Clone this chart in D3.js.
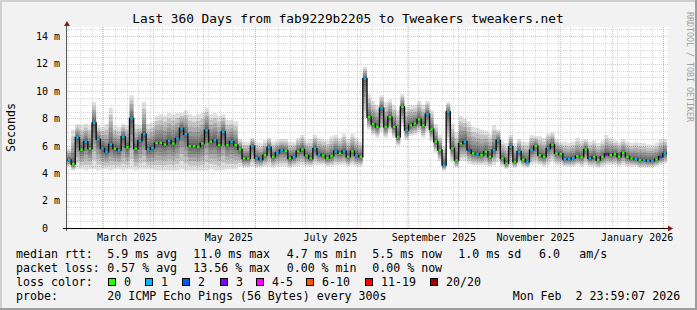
<!DOCTYPE html>
<html>
<head>
<meta charset="utf-8">
<script src="https://cdn.jsdelivr.net/npm/d3@7"></script>
<style>
body { margin: 0; background: #f2f2f2; }
svg text { font-family: "DejaVu Sans Mono", monospace; fill: #000; }
</style>
</head>
<body>
<div id="chart"></div>
<script>
// median rtt per 2.5 day step (ms)
var medianMs = [
  4.96, 4.67, 6.6, 5.72, 6.3, 5.8, 7.68, 6.47, 5.81, 5.57,
  6.1, 5.8, 5.69, 6.66, 5.9, 8.0, 5.8, 6.37, 6.85, 5.74,
  5.85, 6.22, 6.22, 6.1, 6.37, 6.17, 6.54, 7.27, 6.85, 5.98,
  5.98, 5.93, 6.17, 7.15, 6.3, 6.42, 6.05, 7.02, 6.05, 6.3,
  6.05, 5.74, 5.08, 5.08, 5.98, 5.1, 5.0, 5.32, 5.88, 5.2,
  5.5, 5.69, 5.63, 5.08, 5.2, 5.6, 5.74, 5.3, 5.08, 5.8,
  5.37, 5.3, 5.1, 5.27, 5.6, 5.45, 5.6, 5.2, 5.6, 5.3,
  5.2, 10.9, 8.1, 7.6, 7.39, 8.73, 7.39, 8.1, 7.39, 6.66,
  8.85, 7.15, 7.5, 7.63, 7.93, 7.5, 8.31, 7.2, 6.3, 5.69,
  4.59, 8.48, 5.81, 4.96, 6.17, 6.3, 5.69, 5.45, 5.4, 5.32,
  5.57, 5.2, 5.69, 6.4, 5.08, 4.72, 5.93, 4.84, 5.57, 5.0,
  4.84, 5.69, 5.98, 5.32, 5.2, 5.81, 6.1, 5.45, 5.4, 5.03,
  5.03, 5.1, 5.25, 5.2, 5.74, 5.08, 5.2, 4.96, 5.2, 5.4,
  5.32, 5.4, 5.2, 5.49, 5.2, 5.08, 5.03, 4.96, 4.96, 4.91,
  4.91, 5.0, 5.2, 5.45
];

// lost pings out of 20 per step
var lossCount = [
  1, 0, 1, 0, 1, 0, 1, 1, 1, 1,
  1, 0, 1, 1, 0, 1, 0, 1, 1, 1,
  1, 0, 0, 0, 1, 0, 1, 1, 1, 0,
  0, 0, 0, 1, 0, 1, 0, 1, 0, 1,
  0, 0, 0, 0, 1, 1, 1, 0, 1, 0,
  1, 1, 0, 0, 1, 0, 0, 0, 0, 1,
  1, 0, 0, 0, 1, 0, 1, 0, 0, 1,
  0, 1, 0, 0, 0, 1, 0, 0, 0, 0,
  0, 1, 0, 0, 0, 0, 1, 0, 0, 0,
  1, 1, 0, 0, 0, 1, 2, 0, 1, 0,
  0, 0, 1, 1, 0, 0, 1, 0, 1, 0,
  1, 1, 0, 0, 0, 1, 0, 0, 0, 1,
  1, 1, 0, 0, 0, 1, 0, 0, 0, 3,
  0, 0, 0, 0, 0, 0, 1, 0, 1, 1,
  1, 0, 2, 1
];

// fastest ping per step (ms)
var smokeLo = [
  4.5, 4.2, 4.3, 4.3, 4.2, 4.3, 4.3, 4.2, 4.3, 4.3,
  4.2, 4.3, 4.3, 4.2, 4.3, 4.3, 4.2, 4.3, 4.3, 4.3,
  4.3, 4.2, 4.2, 4.2, 4.2, 4.2, 4.2, 4.3, 4.2, 4.2,
  4.2, 4.2, 4.2, 4.2, 4.3, 4.2, 4.2, 4.2, 4.3, 4.3,
  4.3, 4.5, 4.4, 4.4, 4.5, 4.4, 4.4, 4.5, 4.5, 4.4,
  4.5, 4.5, 4.5, 4.4, 4.5, 4.5, 4.6, 4.5, 4.5, 4.6,
  4.6, 4.6, 4.5, 4.5, 4.6, 4.6, 4.6, 4.5, 4.6, 4.5,
  4.5, 8.0, 7.2, 6.8, 6.6, 7.0, 6.6, 7.0, 6.6, 6.0,
  7.4, 6.4, 6.7, 6.8, 7.0, 6.6, 7.0, 6.3, 5.5, 4.9,
  4.2, 6.2, 4.8, 4.4, 4.9, 4.9, 4.7, 4.6, 4.6, 4.6,
  4.6, 4.5, 4.6, 4.8, 4.5, 4.3, 4.6, 4.4, 4.6, 4.5,
  4.4, 4.6, 4.7, 4.6, 4.5, 4.6, 4.8, 4.6, 4.6, 4.5,
  4.5, 4.5, 4.6, 4.5, 4.6, 4.5, 4.5, 4.4, 4.5, 4.6,
  4.6, 4.6, 4.5, 4.6, 4.5, 4.5, 4.5, 4.4, 4.4, 4.4,
  4.4, 4.5, 4.6, 4.7
];

// slowest ping per step (ms)
var smokeHi = [
  5.8, 7.2, 7.6, 7.5, 7.6, 7.5, 9.2, 7.5, 7.4, 7.6,
  8.8, 7.5, 7.4, 7.6, 7.5, 9.7, 7.6, 7.5, 9.2, 7.6,
  7.7, 8.2, 8.3, 8.2, 8.4, 8.3, 8.4, 8.4, 8.6, 8.3,
  8.2, 8.3, 8.4, 8.8, 8.3, 8.4, 8.2, 8.3, 7.9, 7.9,
  7.8, 6.5, 6.3, 6.3, 6.6, 6.3, 6.2, 6.4, 6.6, 6.3,
  6.4, 6.5, 6.5, 6.3, 6.3, 6.6, 6.8, 6.4, 6.5, 6.8,
  6.6, 6.5, 6.4, 6.7, 6.8, 6.6, 6.9, 6.5, 6.9, 6.6,
  6.3, 11.8, 9.8, 9.3, 9.0, 9.7, 9.2, 9.4, 9.0, 8.6,
  9.8, 8.8, 9.0, 9.0, 9.3, 9.0, 9.3, 8.6, 7.6, 6.8,
  6.0, 9.2, 7.6, 7.0, 8.2, 8.0, 7.8, 7.4, 7.3, 7.2,
  7.1, 6.9, 7.5, 7.2, 6.4, 6.2, 6.8, 6.2, 6.5, 6.3,
  6.3, 6.8, 6.7, 6.7, 6.6, 6.9, 7.0, 6.5, 6.3, 6.3,
  6.2, 6.3, 6.6, 6.4, 6.5, 6.3, 6.4, 6.2, 6.4, 6.8,
  6.6, 6.4, 6.3, 6.5, 6.3, 6.2, 6.3, 6.2, 6.2, 6.1,
  6.1, 6.2, 6.5, 6.5
];

var yTicks = [0, 2, 4, 6, 8, 10, 12, 14];
var monthLabels = ["2025-03", "2025-05", "2025-07", "2025-09", "2025-11", "2026-01"];

var lossNames = ["0", "1", "2", "3", "4-5", "6-10", "11-19", "20/20"];
var lossColors = ["#26ff00", "#00b8ff", "#0059ff", "#7e00ff", "#ff00ff", "#ff5500", "#ff0000", "#a10000"];

var rttStats = ["5.9 ms avg", "11.0 ms max", "4.7 ms min", "5.5 ms now", "1.0 ms sd", "6.0", "am/s"];
var lossStats = ["0.57 % avg", "13.56 % max", "0.00 % min", "0.00 % now"];

var W = 697, H = 310,
    pLeft = 67, pRight = 667, pTop = 27, pBottom = 228;

var t1 = new Date(Date.UTC(2026, 1, 3, 4, 20)),
    t0 = d3.utcDay.offset(t1, -360);

var x = d3.scaleUtc().domain([t0, t1]).range([pLeft, pRight]);
var y = d3.scaleLinear().domain([0, 14.68]).range([pBottom, pTop]);

var lossColor = d3.scaleThreshold()
    .domain([0.5, 1.5, 2.5, 3.5, 5.5, 10.5, 19.5])
    .range(lossColors);

var data = medianMs.map(function(m, i) {
  return {t: d3.utcHour.offset(t0, i * 60), med: m, lo: smokeLo[i], hi: smokeHi[i], loss: lossCount[i]};
});
var last = data[data.length - 1];
var stepped = data.concat([{t: t1, med: last.med, lo: last.lo, hi: last.hi}]);

var svg = d3.select("#chart").append("svg")
    .attr("width", W)
    .attr("height", H);

// background and 3d frame
svg.append("rect").attr("width", W).attr("height", H).attr("fill", "#f2f2f2");
svg.append("rect").attr("x", 0).attr("y", 0).attr("width", W).attr("height", 2).attr("fill", "#cfcfcf");
svg.append("rect").attr("x", 0).attr("y", 0).attr("width", 2).attr("height", H).attr("fill", "#cfcfcf");
svg.append("rect").attr("x", W - 2).attr("y", 0).attr("width", 2).attr("height", H).attr("fill", "#9e9e9e");
svg.append("rect").attr("x", 0).attr("y", H - 2).attr("width", W).attr("height", 2).attr("fill", "#9e9e9e");

svg.append("defs").append("clipPath").attr("id", "clip")
  .append("rect").attr("x", pLeft).attr("y", pTop).attr("width", pRight - pLeft).attr("height", pBottom - pTop);

var g = svg.append("g");

g.append("rect")
    .attr("x", pLeft).attr("y", pTop)
    .attr("width", pRight - pLeft + 1).attr("height", pBottom - pTop)
    .attr("fill", "#fff");

// grid
var minorY = d3.range(0.5, 14.6, 0.5).filter(function(v) { return v % 2 != 0; });
g.selectAll(".hminor").data(minorY).enter().append("line")
    .attr("x1", pLeft).attr("x2", pRight + 1)
    .attr("y1", function(d) { return Math.round(y(d)) + 0.5; })
    .attr("y2", function(d) { return Math.round(y(d)) + 0.5; })
    .attr("stroke", "rgba(192,192,192,0.6)").attr("stroke-dasharray", "1,1");

g.selectAll(".vminor").data(d3.utcSunday.range(t0, t1)).enter().append("line")
    .attr("x1", function(d) { return Math.round(x(d)) + 0.5; })
    .attr("x2", function(d) { return Math.round(x(d)) + 0.5; })
    .attr("y1", pTop).attr("y2", pBottom)
    .attr("stroke", "rgba(192,192,192,0.6)").attr("stroke-dasharray", "1,1");

g.selectAll(".hmajor").data(yTicks.slice(1)).enter().append("line")
    .attr("x1", pLeft).attr("x2", pRight + 1)
    .attr("y1", function(d) { return Math.round(y(d)) + 0.5; })
    .attr("y2", function(d) { return Math.round(y(d)) + 0.5; })
    .attr("stroke", "rgba(255,128,128,0.6)").attr("stroke-dasharray", "1,1");

g.selectAll(".vmajor").data(d3.utcMonth.range(t0, t1)).enter().append("line")
    .attr("x1", function(d) { return Math.round(x(d)) + 0.5; })
    .attr("x2", function(d) { return Math.round(x(d)) + 0.5; })
    .attr("y1", pTop).attr("y2", pBottom)
    .attr("stroke", "rgba(255,128,128,0.6)").attr("stroke-dasharray", "1,1");

// smoke
var bands = [1, 0.8, 0.62, 0.46, 0.32, 0.2, 0.1];
bands.forEach(function(f) {
  var area = d3.area()
      .curve(d3.curveStepAfter)
      .x(function(d) { return x(d.t); })
      .y0(function(d) { return y(d.med - f * (d.med - d.lo)); })
      .y1(function(d) { return y(d.med + f * (d.hi - d.med)); });
  g.append("path")
      .datum(stepped)
      .attr("clip-path", "url(#clip)")
      .attr("fill", "#000")
      .attr("fill-opacity", 0.12)
      .attr("d", area);
});

var medLine = d3.line()
    .curve(d3.curveStepAfter)
    .x(function(d) { return x(d.t); })
    .y(function(d) { return y(d.med); });

g.append("path")
    .datum(stepped)
    .attr("clip-path", "url(#clip)")
    .attr("fill", "none")
    .attr("stroke", "#111")
    .attr("stroke-width", 1.4)
    .attr("d", medLine);

g.selectAll(".med").data(data).enter().append("line")
    .attr("x1", function(d) { return x(d.t) + 0.8; })
    .attr("x2", function(d, i) { return x(stepped[i + 1].t) - 0.8; })
    .attr("y1", function(d) { return y(d.med); })
    .attr("y2", function(d) { return y(d.med); })
    .attr("stroke", function(d) { return lossColor(d.loss); })
    .attr("stroke-width", 2.3);

// axes
var yAxis = g.append("g")
    .attr("transform", "translate(" + pLeft + ",0)")
    .call(d3.axisLeft(y).tickValues(yTicks).tickSize(0).tickPadding(7)
      .tickFormat(function(d) { return d ? d + " m" : "0\u00a0\u00a0"; }));
yAxis.select(".domain").remove();
yAxis.selectAll("text").attr("font-size", 10).attr("font-family", "DejaVu Sans Mono").attr("fill", "#000");

var xAxis = g.append("g")
    .attr("transform", "translate(0," + pBottom + ")")
    .call(d3.axisBottom(x)
      .tickValues(monthLabels.map(function(m) { return d3.utcDay.offset(d3.utcParse("%Y-%m")(m), 15); }))
      .tickSize(0).tickPadding(4)
      .tickFormat(d3.utcFormat("%B %Y")));
xAxis.select(".domain").remove();
xAxis.selectAll("text").attr("font-size", 10).attr("font-family", "DejaVu Sans Mono").attr("fill", "#000").attr("dy", "0.9em");

g.append("line").attr("x1", pLeft - 0.5).attr("x2", pLeft - 0.5).attr("y1", 26).attr("y2", pBottom + 3)
    .attr("stroke", "#555").attr("stroke-width", 1);
g.append("line").attr("x1", pLeft - 4).attr("x2", pRight + 2).attr("y1", pBottom + 0.5).attr("y2", pBottom + 0.5)
    .attr("stroke", "#000").attr("stroke-width", 1);
g.append("path").attr("d", "M64,26L70,26L67,21Z").attr("fill", "#8c1a1a");
g.append("path").attr("d", "M668,225.5L668,231.5L673,228.5Z").attr("fill", "#8c1a1a");

// titles
svg.append("text")
    .attr("x", 348).attr("y", 23)
    .attr("text-anchor", "middle")
    .attr("font-size", 12.8)
    .text("Last 360 Days from fab9229b2205 to Tweakers tweakers.net");

svg.append("text")
    .attr("transform", "translate(15,127.5) rotate(-90)")
    .attr("text-anchor", "middle")
    .attr("font-size", 11.6)
    .text("Seconds");

svg.append("text")
    .attr("transform", "translate(686.5,12) rotate(90)")
    .attr("font-size", 8.3)
    .style("fill", "#a0a0a0")
    .text("RRDTOOL / TOBI OETIKER");

// legend
var lg = svg.append("g").attr("font-size", 11.6);
var statX = [107.3, 193.3, 286.7, 372.3, 458.3, 539, 579.3];

lg.append("text").attr("x", 16).attr("y", 258).text("median rtt:");
rttStats.forEach(function(s, i) {
  lg.append("text").attr("x", statX[i]).attr("y", 258).text(s);
});

lg.append("text").attr("x", 16).attr("y", 272).text("packet loss:");
lossStats.forEach(function(s, i) {
  lg.append("text").attr("x", statX[i]).attr("y", 272).text(s);
});

lg.append("text").attr("x", 16).attr("y", 286).text("loss color:");
var boxX = [108.5, 145.5, 182.5, 220.5, 256.5, 306.5, 365.5, 430.5];
lossNames.forEach(function(name, i) {
  lg.append("rect")
      .attr("x", boxX[i]).attr("y", 278.5)
      .attr("width", 7).attr("height", 7)
      .attr("fill", lossColors[i])
      .attr("stroke", "#000").attr("stroke-width", 1);
  lg.append("text").attr("x", boxX[i] + 15.5).attr("y", 286).text(name);
});

lg.append("text").attr("x", 16).attr("y", 300).text("probe:");
lg.append("text").attr("x", 107.3).attr("y", 300).text("20 ICMP Echo Pings (56 Bytes) every 300s");
lg.append("text").attr("x", 512.7).attr("y", 300).style("white-space", "pre").text("Mon Feb  2 23:59:07 2026");
</script>
</body>
</html>
